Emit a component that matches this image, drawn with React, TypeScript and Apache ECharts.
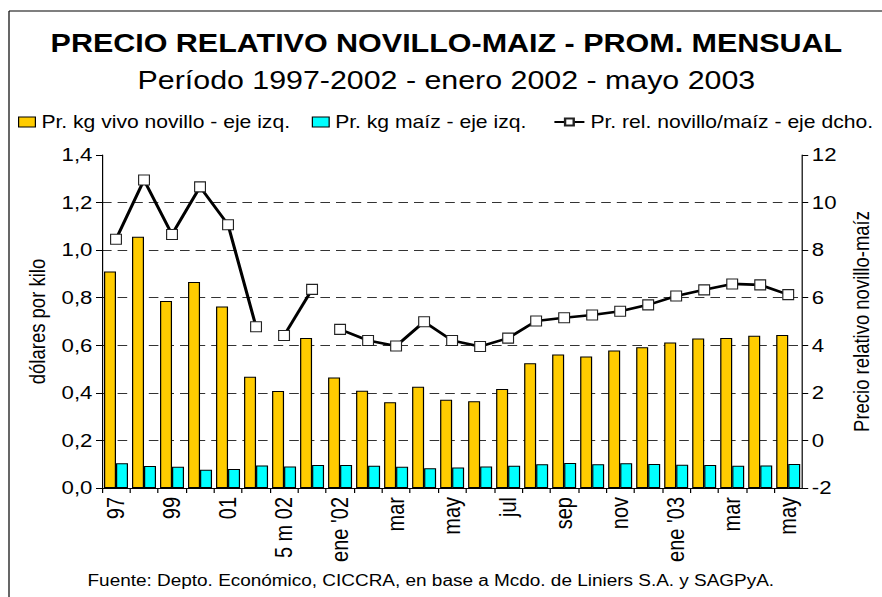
import React, { useEffect, useRef } from "react";
import * as echarts from "echarts";

const categories = ["97", "98", "99", "00", "01", "02", "5 m 02", "5 m 03", "ene '02", "feb", "mar", "abr", "may", "jun", "jul", "ago", "sep", "oct", "nov", "dic", "ene '03", "feb", "mar", "abr", "may"];
const novillo = [0.91, 1.056, 0.786, 0.866, 0.763, 0.468, 0.408, 0.631, 0.465, 0.409, 0.36, 0.426, 0.371, 0.365, 0.416, 0.524, 0.561, 0.553, 0.578, 0.592, 0.612, 0.629, 0.631, 0.64, 0.643];
const maiz = [0.104, 0.093, 0.089, 0.077, 0.08, 0.095, 0.09, 0.097, 0.097, 0.094, 0.089, 0.083, 0.086, 0.09, 0.094, 0.1, 0.105, 0.1, 0.104, 0.101, 0.098, 0.097, 0.094, 0.095, 0.101];
const ratio = [8.46, 10.95, 8.66, 10.66, 9.07, 4.78, 4.41, 6.35, 4.67, 4.2, 3.97, 4.99, 4.2, 3.95, 4.3, 5.02, 5.16, 5.27, 5.43, 5.7, 6.07, 6.33, 6.58, 6.54, 6.13];
// line segments (start index, end index) — the line is broken between them
const segments = [[0, 5], [6, 7], [8, 24]];

const leftTicks = { min: 0, max: 1.4, interval: 0.2 };
const rightTicks = { min: -2, max: 12, interval: 2 };

const TITLE = "PRECIO RELATIVO NOVILLO-MAIZ - PROM. MENSUAL";
const SUBTITLE = "Período 1997-2002 - enero 2002 - mayo 2003";
const SOURCE = "Fuente: Depto. Económico, CICCRA, en base a Mcdo. de Liniers S.A. y SAGPyA.";
const NAME_NOV = "Pr. kg vivo novillo - eje izq.";
const NAME_MAIZ = "Pr. kg maíz - eje izq.";
const NAME_REL = "Pr. rel. novillo/maíz - eje dcho.";

const FONT = "'Liberation Sans', Arial, sans-serif";
const W = 735;
const H = 597;

export default function App() {
  const ref = useRef<HTMLDivElement>(null);
  useEffect(() => {
    if (!ref.current) return;
    const chart = echarts.init(ref.current, null, { renderer: "svg" });
    const lineSeries = segments.map(([s, e]) => ({
      name: NAME_REL,
      type: "line",
      yAxisIndex: 1,
      z: 5,
      data: ratio.map((v, i) => (i >= s && i <= e ? v : null)),
      connectNulls: false,
      symbol: "rect",
      symbolSize: [9, 10],
      lineStyle: { color: "#000", width: 2.6 },
      itemStyle: { color: "#fff", borderColor: "#222", borderWidth: 1 },
    }));
    chart.setOption({
      animation: false,
      backgroundColor: "#fff",
      textStyle: { fontFamily: FONT, color: "#000" },
      graphic: [
        { type: "line", shape: { x1: 7.5, y1: 11, x2: W, y2: 11 }, style: { stroke: "#000", lineWidth: 1 } },
        { type: "line", shape: { x1: 7.5, y1: 11, x2: 7.5, y2: H }, style: { stroke: "#000", lineWidth: 1 } },
        { type: "text", x: 372, y: 43.5, style: { text: TITLE, fontFamily: FONT, fontSize: 25.4, fontWeight: "bold", fill: "#000", textAlign: "center", textVerticalAlign: "middle" } },
        { type: "text", x: 372, y: 80, style: { text: SUBTITLE, fontFamily: FONT, fontSize: 25.3, fill: "#000", textAlign: "center", textVerticalAlign: "middle" } },
        { type: "text", x: 359, y: 581, style: { text: SOURCE, fontFamily: FONT, fontSize: 15.8, fill: "#000", textAlign: "center", textVerticalAlign: "middle" } },
      ],
      legend: [
        {
          data: [NAME_NOV, NAME_MAIZ],
          left: 10,
          top: 108,
          icon: "rect",
          itemWidth: 14,
          itemHeight: 10,
          itemGap: 18,
          itemStyle: { borderColor: "#000", borderWidth: 1 },
          textStyle: { fontFamily: FONT, fontSize: 17.6, color: "#000" },
        },
        {
          data: [NAME_REL],
          left: 456,
          top: 108,
          itemWidth: 25,
          itemHeight: 9,
          textStyle: { fontFamily: FONT, fontSize: 17.6, color: "#000" },
        },
      ],
      grid: { left: 85, right: 59, top: 155, bottom: 109 },
      xAxis: {
        type: "category",
        data: categories,
        boundaryGap: true,
        axisLine: { lineStyle: { color: "#000", width: 1 } },
        axisTick: { show: true, interval: 0, length: 5, lineStyle: { color: "#000" } },
        axisLabel: { interval: 1, rotate: 90, fontSize: 20, color: "#000", fontFamily: FONT, margin: 9 },
      },
      yAxis: [
        {
          type: "value",
          ...leftTicks,
          name: "dólares por kilo",
          nameLocation: "middle",
          nameRotate: 90,
          nameGap: 42,
          nameTextStyle: { fontSize: 18.5, fontFamily: FONT, color: "#000" },
          axisLine: { show: true, lineStyle: { color: "#000" } },
          axisTick: { show: true, length: 5, lineStyle: { color: "#000" } },
          axisLabel: { fontSize: 18.5, color: "#000", fontFamily: FONT, margin: 8, formatter: (v: number) => v.toFixed(1).replace(".", ",") },
          splitLine: { show: true, showMinLine: false, showMaxLine: false, lineStyle: { color: "#333", type: [8, 5], width: 1 } },
        },
        {
          type: "value",
          ...rightTicks,
          position: "right",
          name: "Precio relativo novillo-maíz",
          nameLocation: "middle",
          nameRotate: 90,
          nameGap: 38,
          nameTextStyle: { fontSize: 18.5, fontFamily: FONT, color: "#000" },
          axisLine: { show: true, lineStyle: { color: "#000" } },
          axisTick: { show: true, length: 5, lineStyle: { color: "#000" } },
          axisLabel: { fontSize: 18.5, color: "#000", fontFamily: FONT, margin: 8 },
          splitLine: { show: false },
        },
      ],
      series: [
        {
          name: NAME_NOV,
          type: "bar",
          data: novillo,
          barWidth: 10,
          barGap: "0%",
          itemStyle: { color: "#FFCC00", borderColor: "#000", borderWidth: 1 },
        },
        {
          name: NAME_MAIZ,
          type: "bar",
          data: maiz,
          barWidth: 10,
          barGap: "0%",
          itemStyle: { color: "#00FFFF", borderColor: "#000", borderWidth: 1 },
        },
        ...lineSeries,
      ],
    });
    return () => chart.dispose();
  }, []);
  return (
    <div
      ref={ref}
      style={{
        position: "fixed",
        left: 0,
        top: 0,
        width: W,
        height: H,
        transform: "scaleX(1.2)",
        transformOrigin: "0 0",
        background: "#fff",
      }}
    />
  );
}
